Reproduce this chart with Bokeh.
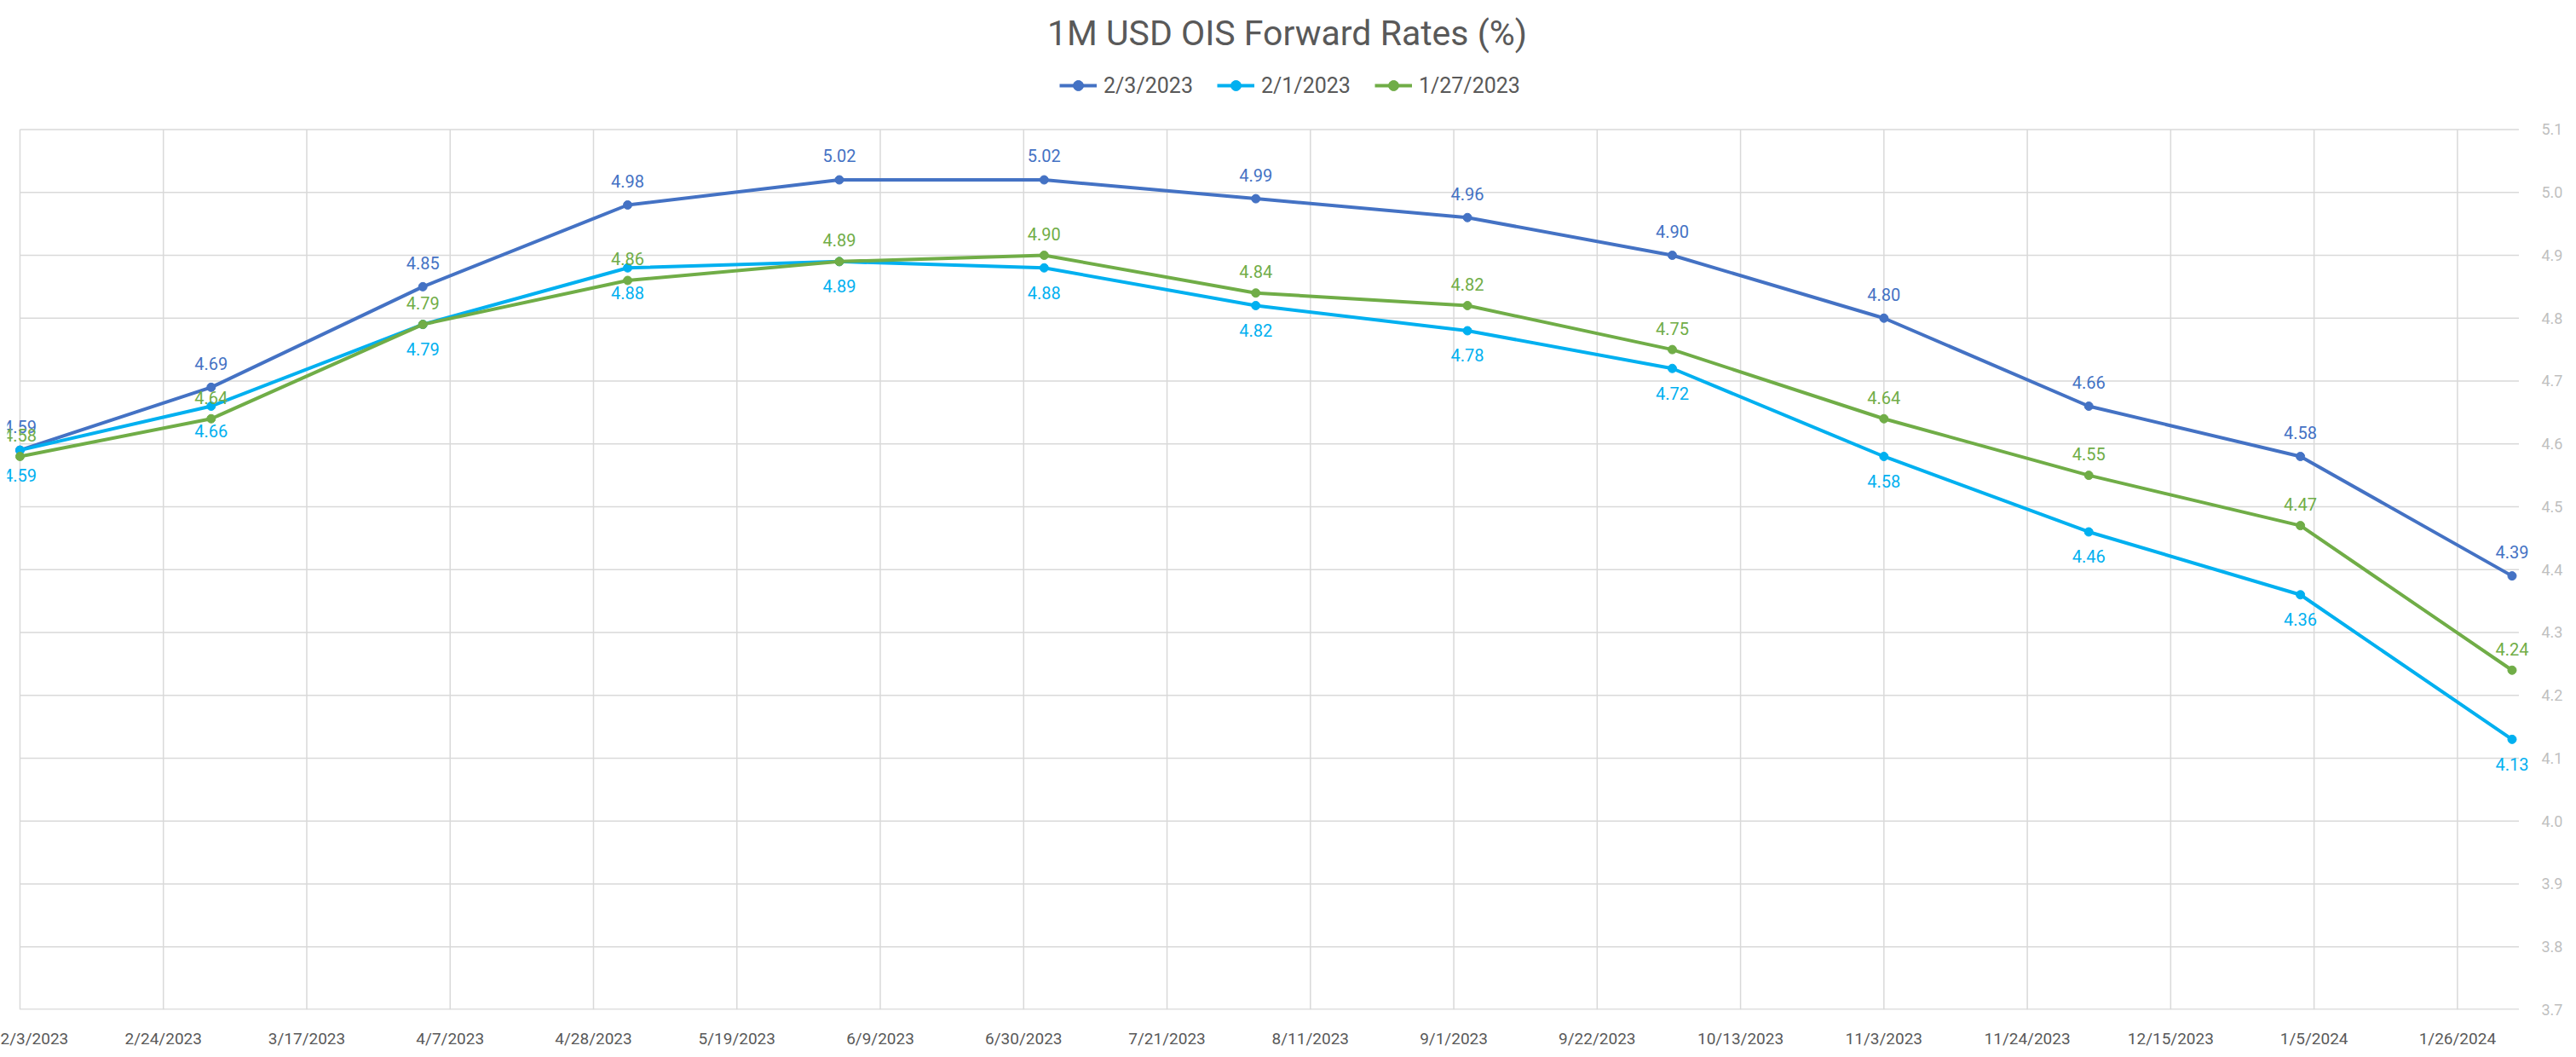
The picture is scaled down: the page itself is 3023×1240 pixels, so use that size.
import pandas as pd
from bokeh.plotting import figure
from bokeh.models import (ColumnDataSource, LabelSet, Label, Legend, LegendItem, FixedTicker,
                          Range1d, PrintfTickFormatter)
from bokeh.core.properties import value
from bokeh.embed import file_html
from bokeh.resources import INLINE

# ---------------- data ----------------
dates = ["2/3/2023", "3/3/2023", "4/3/2023", "5/3/2023", "6/3/2023", "7/3/2023", "8/3/2023",
         "9/3/2023", "10/3/2023", "11/3/2023", "12/3/2023", "1/3/2024", "2/3/2024"]
rates_0203 = [4.59, 4.69, 4.85, 4.98, 5.02, 5.02, 4.99, 4.96, 4.90, 4.80, 4.66, 4.58, 4.39]
rates_0201 = [4.59, 4.66, 4.79, 4.88, 4.89, 4.88, 4.82, 4.78, 4.72, 4.58, 4.46, 4.36, 4.13]
rates_0127 = [4.58, 4.64, 4.79, 4.86, 4.89, 4.90, 4.84, 4.82, 4.75, 4.64, 4.55, 4.47, 4.24]
series_names = ["2/3/2023", "2/1/2023", "1/27/2023"]
tick_labels = ["2/3/2023", "2/24/2023", "3/17/2023", "4/7/2023", "4/28/2023", "5/19/2023",
               "6/9/2023", "6/30/2023", "7/21/2023", "8/11/2023", "9/1/2023", "9/22/2023",
               "10/13/2023", "11/3/2023", "11/24/2023", "12/15/2023", "1/5/2024", "1/26/2024"]
y_ticks = [3.7, 3.8, 3.9, 4.0, 4.1, 4.2, 4.3, 4.4, 4.5, 4.6, 4.7, 4.8, 4.9, 5.0, 5.1]
title_text = "1M USD OIS Forward Rates (%)"
x_axis_start = "2/3/2023"
x_axis_end = "2/4/2024"

# ---------------- styling ----------------
FONT = "Roboto"
colors = ["#4472C4", "#00B0F0", "#70AD47"]
label_offsets = [28, -29, 25]   # above / below / above
GRID = "#D9D9D9"
DAY = 86400000.0
PX_PER_DAY = 8.034
FRAME_W, FRAME_H = 2972, 1188


def to_ms(s):
    return pd.to_datetime(s, format="%m/%d/%Y").value / 1e6


xs = [to_ms(d) for d in dates]
tick_pos = [to_ms(t) for t in tick_labels]
gx0, gx1 = to_ms(x_axis_start), to_ms(x_axis_end)
y_lo, y_hi = y_ticks[0], y_ticks[-1]
x_start = gx0 - (15 / PX_PER_DAY) * DAY

# frame spans most of the canvas so that labels are not clipped
p = figure(width=3010, height=1232,
           x_range=Range1d(x_start, x_start + (FRAME_W / PX_PER_DAY) * DAY),
           y_range=Range1d(y_lo, y_lo + FRAME_H / 740.0),
           y_axis_location="right", output_backend="svg", toolbar_location=None,
           min_border_left=8, min_border_right=30, min_border_top=0, min_border_bottom=44,
           outline_line_color=None, background_fill_color="white", border_fill_color="white")
p.title.visible = False
p.xgrid.visible = False
p.ygrid.visible = False

# grid lines restricted to the plot area
p.segment(x0=tick_pos, y0=[y_lo] * len(tick_pos), x1=tick_pos, y1=[y_hi] * len(tick_pos),
          line_color=GRID, line_width=1.5)
p.segment(x0=[gx0] * len(y_ticks), y0=y_ticks, x1=[gx1] * len(y_ticks), y1=y_ticks,
          line_color=GRID, line_width=[2.5] + [1.5] * (len(y_ticks) - 1))

# x axis
xa = p.xaxis[0]
xa.ticker = FixedTicker(ticks=tick_pos)
xa.major_label_overrides = {tp: lab for tp, lab in zip(tick_pos, tick_labels)}
xa.axis_line_color = None
xa.major_tick_line_color = None
xa.minor_tick_line_color = None
xa.major_label_text_font = FONT
xa.major_label_text_font_size = "19px"
xa.major_label_text_color = "#595959"
xa.major_label_standoff = 16

# y axis
ya = p.yaxis[0]
ya.ticker = FixedTicker(ticks=y_ticks)
ya.formatter = PrintfTickFormatter(format="%.1f")
ya.axis_line_color = None
ya.major_tick_line_color = None
ya.minor_tick_line_color = None
ya.major_label_text_font = FONT
ya.major_label_text_font_size = "18px"
ya.major_label_text_color = "#BFBFBF"
ya.major_label_standoff = 4

items = []
for name, vals, col, off in zip(series_names, [rates_0203, rates_0201, rates_0127], colors, label_offsets):
    src = ColumnDataSource(dict(x=xs, y=vals, lab=[f"{v:.2f}" for v in vals]))
    lr = p.line("x", "y", source=src, line_color=col, line_width=4)
    sr = p.scatter("x", "y", source=src, size=10, fill_color=col, line_color=col)
    ls = LabelSet(x="x", y="y", text="lab", source=src, text_align="center",
                  text_baseline="middle", y_offset=off, text_color=col,
                  text_font=value(FONT), text_font_size=value("20px"))
    p.add_layout(ls)
    items.append(LegendItem(label=name, renderers=[lr, sr]))

legend = Legend(items=items, orientation="horizontal", location=(1235, 1069),
                label_text_font=FONT, label_text_font_size="25px", label_text_color="#595959",
                glyph_width=44, glyph_height=30, label_height=30, label_standoff=8, spacing=28,
                border_line_color=None, background_fill_alpha=0, padding=0, margin=0)
p.add_layout(legend, "center")

title = Label(x=1502, y=1146, x_units="screen", y_units="screen", text=title_text,
              text_align="center", text_baseline="middle", text_font=FONT,
              text_font_size="41px", text_color="#595959")
p.add_layout(title)

open("out.html", "w").write(file_html(p, INLINE))
